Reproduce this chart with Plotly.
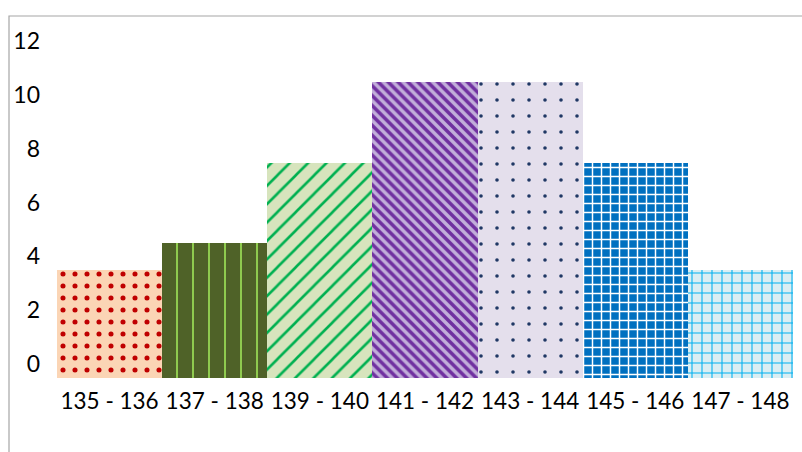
import plotly.graph_objects as go

# Height bins and counts
bins = ["135 - 136", "137 - 138", "139 - 140", "141 - 142", "143 - 144", "145 - 146", "147 - 148"]
counts = [4, 5, 8, 11, 11, 8, 4]
y_ticks = [0, 2, 4, 6, 8, 10, 12]

# Per-bar fill patterns
pat_shape = [".", "|", "/", "\\", ".", "+", "+"]
pat_fg = ["#C00000", "#92D050", "#00B050", "#7030A0", "#1F3864", "#FFFFFF", "#00B0F0"]
pat_bg = ["#FBD5B5", "#4F6228", "#D7E4BD", "#C2AEDA", "#E4DFEC", "#0070C0", "#DAEEF3"]
pat_size = [12, 16, 13, 7, 16, 9, 10]
pat_solid = [0.14, 0.12, 0.2, 0.5, 0.04, 0.3, 0.2]

fig = go.Figure()
for b, c, s, fg, bg, sz, so in zip(bins, counts, pat_shape, pat_fg, pat_bg, pat_size, pat_solid):
    fig.add_trace(go.Bar(
        x=[b], y=[c], name=b,
        marker=dict(
            color=bg,
            line=dict(width=0),
            pattern=dict(shape=s, fgcolor=fg, bgcolor=bg, size=sz,
                         solidity=so, fillmode="overlay", fgopacity=1),
        ),
        hoverinfo="x+y",
    ))

W, H = 802, 452
ml, mr, mt, mb = 57, 9, 28, 74
pw, ph = W - ml - mr, H - mt - mb

# Outer frame of the chart area (runs off the right and bottom edges)
fx0 = (9 - ml) / pw
fy1 = 1 + (mt - 16) / ph
fig.add_shape(type="rect", xref="paper", yref="paper",
              x0=fx0, x1=1.2, y0=-0.5, y1=fy1,
              line=dict(color="#A6A6A6", width=1.2), fillcolor="rgba(0,0,0,0)", layer="below")

fig.update_layout(
    width=W, height=H,
    margin=dict(l=ml, r=mr, t=mt, b=mb),
    paper_bgcolor="white", plot_bgcolor="white",
    barmode="overlay",
    bargap=0,
    showlegend=False,
    font=dict(family="Lato", size=22.5, color="#000000"),
    xaxis=dict(categoryorder="array", categoryarray=bins,
               showgrid=False, showline=False, zeroline=False, ticks="",
               tickfont=dict(size=22.5), ticklabelstandoff=7),
    yaxis=dict(range=[0, 13], tickvals=y_ticks, showgrid=False, showline=False,
               zeroline=False, ticks="", tickfont=dict(size=23),
               ticklabelstandoff=16, ticklabelshift=-14),
)

fig.write_html("out.html")
